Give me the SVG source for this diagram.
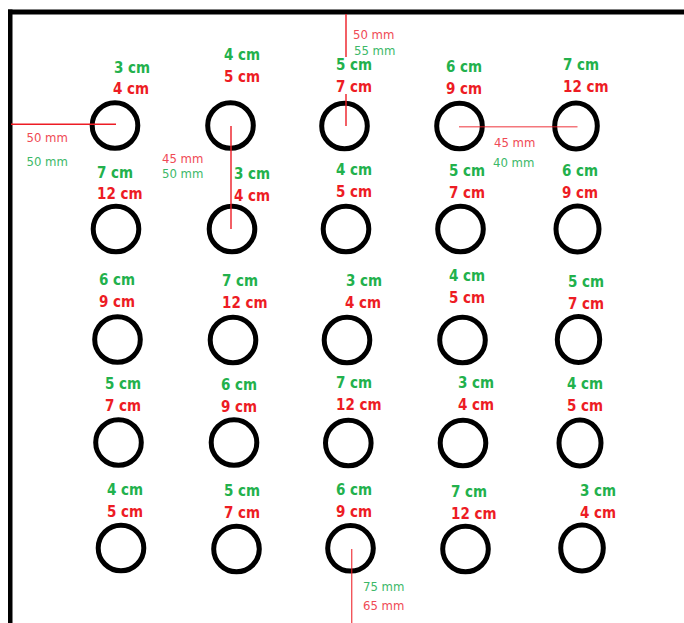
<svg xmlns="http://www.w3.org/2000/svg" width="684" height="623" viewBox="0 0 684 623">
<style>
.hole{fill:none;stroke:#000;stroke-width:5}
.g{fill:#22b14c;font-family:"DejaVu Sans Condensed","DejaVu Sans",sans-serif;font-weight:bold;font-size:15px}
.r{fill:#ed1c24;font-family:"DejaVu Sans Condensed","DejaVu Sans",sans-serif;font-weight:bold;font-size:15px}
.sg{fill:#3cb868;font-family:"DejaVu Sans Condensed","DejaVu Sans",sans-serif;font-size:13px}
.sr{fill:#ef4a55;font-family:"DejaVu Sans Condensed","DejaVu Sans",sans-serif;font-size:13px}
.m{stroke:#ed1c24;stroke-width:1.4;fill:none}
</style>
<rect width="684" height="623" fill="#fff"/>
<g id="frame">
<rect x="8" y="9.5" width="4.5" height="613.5" fill="#000"/>
<rect x="8" y="9.5" width="676" height="5" fill="#000"/>
</g>
<g id="r1c1"><circle class="hole" cx="115" cy="125.5" r="22.8"/><text class="g" x="114" y="73">3 cm</text><text class="r" x="113" y="94">4 cm</text></g>
<g id="r1c2"><circle class="hole" cx="230.5" cy="125.5" r="22.8"/><text class="g" x="224" y="60">4 cm</text><text class="r" x="224" y="82">5 cm</text></g>
<g id="r1c3"><circle class="hole" cx="344.5" cy="126" r="22.8"/><text class="g" x="336" y="70">5 cm</text><text class="r" x="336" y="92">7 cm</text></g>
<g id="r1c4"><circle class="hole" cx="459.5" cy="126" r="22.8"/><text class="g" x="446" y="72">6 cm</text><text class="r" x="446" y="94">9 cm</text></g>
<g id="r1c5"><ellipse class="hole" cx="576" cy="126" rx="21.3" ry="23"/><text class="g" x="563" y="70">7 cm</text><text class="r" x="563" y="92">12 cm</text></g>

<g id="r2c1"><circle class="hole" cx="116" cy="229" r="22.8"/><text class="g" x="97" y="178">7 cm</text><text class="r" x="97" y="199">12 cm</text></g>
<g id="r2c2"><circle class="hole" cx="232" cy="229" r="22.8"/><text class="g" x="234" y="179">3 cm</text><text class="r" x="234" y="201">4 cm</text></g>
<g id="r2c3"><circle class="hole" cx="346" cy="229" r="22.8"/><text class="g" x="336" y="175">4 cm</text><text class="r" x="336" y="197">5 cm</text></g>
<g id="r2c4"><circle class="hole" cx="460.5" cy="229" r="22.8"/><text class="g" x="449" y="176">5 cm</text><text class="r" x="449" y="198">7 cm</text></g>
<g id="r2c5"><ellipse class="hole" cx="577.5" cy="229" rx="21.5" ry="23"/><text class="g" x="562" y="176">6 cm</text><text class="r" x="562" y="198">9 cm</text></g>

<g id="r3c1"><circle class="hole" cx="117.5" cy="339.5" r="22.8"/><text class="g" x="99" y="285">6 cm</text><text class="r" x="99" y="307">9 cm</text></g>
<g id="r3c2"><circle class="hole" cx="233" cy="340" r="22.8"/><text class="g" x="222" y="286">7 cm</text><text class="r" x="222" y="308">12 cm</text></g>
<g id="r3c3"><circle class="hole" cx="347" cy="340" r="22.8"/><text class="g" x="346" y="286">3 cm</text><text class="r" x="345" y="308">4 cm</text></g>
<g id="r3c4"><circle class="hole" cx="462.5" cy="340" r="22.8"/><text class="g" x="449" y="281">4 cm</text><text class="r" x="449" y="303">5 cm</text></g>
<g id="r3c5"><ellipse class="hole" cx="578.5" cy="339.5" rx="21.2" ry="23"/><text class="g" x="568" y="287">5 cm</text><text class="r" x="568" y="309">7 cm</text></g>

<g id="r4c1"><circle class="hole" cx="118.5" cy="442.5" r="22.8"/><text class="g" x="105" y="389">5 cm</text><text class="r" x="105" y="411">7 cm</text></g>
<g id="r4c2"><circle class="hole" cx="234" cy="442.5" r="22.8"/><text class="g" x="221" y="390">6 cm</text><text class="r" x="221" y="412">9 cm</text></g>
<g id="r4c3"><circle class="hole" cx="348.3" cy="443" r="22.8"/><text class="g" x="336" y="388">7 cm</text><text class="r" x="336" y="409.5">12 cm</text></g>
<g id="r4c4"><circle class="hole" cx="463" cy="443" r="22.8"/><text class="g" x="458" y="388">3 cm</text><text class="r" x="458" y="410">4 cm</text></g>
<g id="r4c5"><ellipse class="hole" cx="580" cy="443" rx="21" ry="23"/><text class="g" x="567" y="389">4 cm</text><text class="r" x="567" y="411">5 cm</text></g>

<g id="r5c1"><circle class="hole" cx="121" cy="548" r="22.8"/><text class="g" x="107" y="495">4 cm</text><text class="r" x="107" y="517">5 cm</text></g>
<g id="r5c2"><circle class="hole" cx="236.5" cy="549" r="22.8"/><text class="g" x="224" y="496">5 cm</text><text class="r" x="224" y="518">7 cm</text></g>
<g id="r5c3"><circle class="hole" cx="350.5" cy="548.3" r="22.8"/><text class="g" x="336" y="494.5">6 cm</text><text class="r" x="336" y="517">9 cm</text></g>
<g id="r5c4"><circle class="hole" cx="465.5" cy="549" r="22.8"/><text class="g" x="451" y="497">7 cm</text><text class="r" x="451" y="519">12 cm</text></g>
<g id="r5c5"><ellipse class="hole" cx="582" cy="548" rx="21.3" ry="23"/><text class="g" x="580" y="496">3 cm</text><text class="r" x="580" y="518">4 cm</text></g>

<g id="connectors">
<line class="m" x1="11" y1="124.3" x2="116" y2="124.3"/>
<line class="m" x1="231" y1="126" x2="231" y2="229"/>
<line class="m" x1="346" y1="14" x2="346" y2="57"/>
<line class="m" x1="346" y1="94" x2="346" y2="126"/>
<line class="m" x1="459" y1="126.7" x2="577.5" y2="126.7" stroke-opacity="0.6" stroke-width="2"/>
<line class="m" x1="351.7" y1="549" x2="351.7" y2="623" stroke-opacity="0.75"/>
</g>
<g id="measures">
<text class="sr" x="26.5" y="142">50 mm</text><text class="sg" x="26.5" y="166">50 mm</text>
<text class="sr" x="162" y="163">45 mm</text><text class="sg" x="162" y="178">50 mm</text>
<text class="sr" x="353" y="38.5">50 mm</text><text class="sg" x="354" y="54.5">55 mm</text>
<text class="sr" x="494" y="147">45 mm</text><text class="sg" x="493" y="167">40 mm</text>
<text class="sg" x="363" y="591">75 mm</text><text class="sr" x="363" y="609.5">65 mm</text>
</g>
</svg>
